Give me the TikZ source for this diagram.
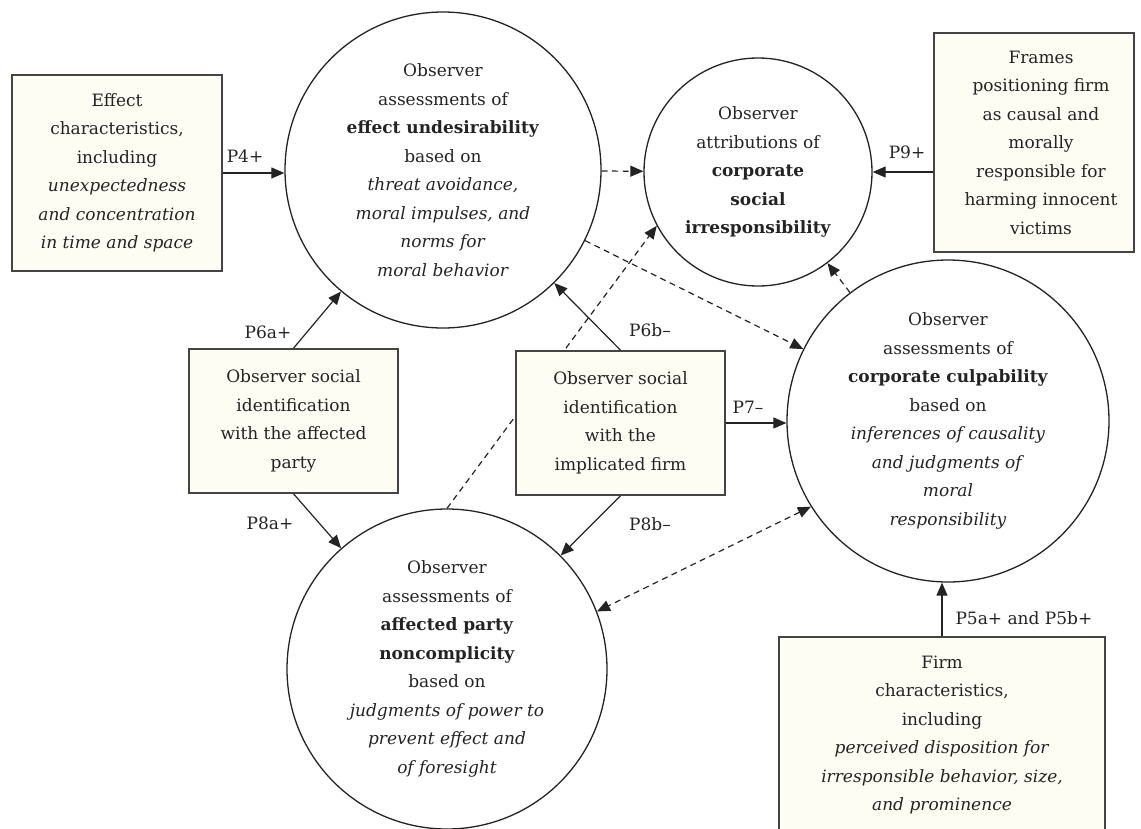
\documentclass[tikz,border=0pt]{standalone}
\usepackage{fontspec}
\setmainfont{DejaVu Serif}
\usetikzlibrary{arrows.meta}
\definecolor{boxfill}{RGB}{253,253,243}
\definecolor{ink}{RGB}{35,35,35}
\begin{document}
\begin{tikzpicture}[x=1pt,y=-1pt,
  every node/.style={font=\fontsize{17}{28.5}\selectfont, text=ink},
  idea/.style={circle, draw=ink, line width=1.3pt, inner sep=0pt, align=center},
  factor/.style={rectangle, draw=ink!85, line width=1.6pt, fill=boxfill, inner sep=0pt, align=center},
  link/.style={draw=ink, line width=1.2pt, -{Triangle[length=13pt,width=11pt]}},
  hint/.style={link, dash pattern=on 6pt off 4.5pt},
  hintboth/.style={hint, {Triangle[length=13pt,width=11pt]}-{Triangle[length=13pt,width=11pt]}},
  tag/.style={font=\fontsize{17}{20}\selectfont}
]
\useasboundingbox (0,0) rectangle (1141,828);

% outcome constructs
\node[idea, minimum size=316pt] (U) at (443,170)
  {Observer\\assessments of\\\textbf{effect undesirability}\\based on\\\textit{threat avoidance,}\\\textit{moral impulses, and}\\\textit{norms for}\\\textit{moral behavior}};
\node[idea, minimum size=228pt] (C) at (758,172)
  {Observer\\attributions of\\\textbf{corporate}\\\textbf{social}\\\textbf{irresponsibility}};
\node[idea, minimum size=322pt] (K) at (948,421)
  {Observer\\assessments of\\\textbf{corporate culpability}\\based on\\\textit{inferences of causality}\\\textit{and judgments of}\\\textit{moral}\\\textit{responsibility}};
\node[idea, minimum size=320pt] (N) at (447,669)
  {Observer\\assessments of\\\textbf{affected party}\\\textbf{noncomplicity}\\based on\\\textit{judgments of power to}\\\textit{prevent effect and}\\\textit{of foresight}};

% runs behind the implicated-firm box
\draw[hint] (N.north) -- (C.208);

% antecedent factors
\node[factor, minimum width=210pt, minimum height=196pt] (A) at (117,173)
  {Effect\\characteristics,\\including\\\textit{unexpectedness}\\\textit{and concentration}\\\textit{in time and space}};
\node[factor, minimum width=200pt, minimum height=219pt] (F) at (1034,142.5)
  {\hspace*{14pt}Frames\\\hspace*{14pt}positioning firm\\\hspace*{14pt}as causal and\\\hspace*{14pt}morally\\\hspace*{14pt}responsible for\\\hspace*{14pt}harming innocent\\\hspace*{14pt}victims};
\node[factor, minimum width=209pt, minimum height=144pt] (S1) at (293.5,421)
  {Observer social\\identification\\with the affected\\party};
\node[factor, minimum width=209pt, minimum height=144pt] (S2) at (620.5,423)
  {Observer social\\identification\\with the\\implicated firm};
\node[factor, minimum width=326pt, minimum height=196pt] (G) at (942,735)
  {Firm\\characteristics,\\including\\\textit{perceived disposition for}\\\textit{irresponsible behavior, size,}\\\textit{and prominence}};

% proposed effects
\draw[link] (A.east) -- (U.west |- A.east);
\draw[link] (F.west |- C.east) -- (C.east);
\draw[link] (S1.north) -- (U);
\draw[link] (S2.north) -- (U);
\draw[link] (S2.east) -- (K.west |- S2.east);
\draw[link] (S1.south) -- (N);
\draw[link] (S2.south) -- (N);
\draw[link] (G.north) -- (G.north |- K.south);

% mediated paths
\draw[hint] (U) -- (C);
\draw[hint] (U) -- (K);
\draw[hint] (K) -- (C);
\draw[hintboth] (K.212) -- (N.21);

% proposition labels
\node[tag] (t4) at (245,156) {P4+};
\node[tag] (t9) at (907,152) {P9+};
\node[tag] (t6a) at (268,332) {P6a+};
\node[tag] (t6b) at (650,330) {P6b–};
\node[tag] (t7) at (748,407) {P7–};
\node[tag] (t8a) at (270,523) {P8a+};
\node[tag] (t8b) at (650,524) {P8b–};
\node[tag, anchor=west] (t5) at (952,618) {P5a+ and P5b+};
\end{tikzpicture}
\end{document}
